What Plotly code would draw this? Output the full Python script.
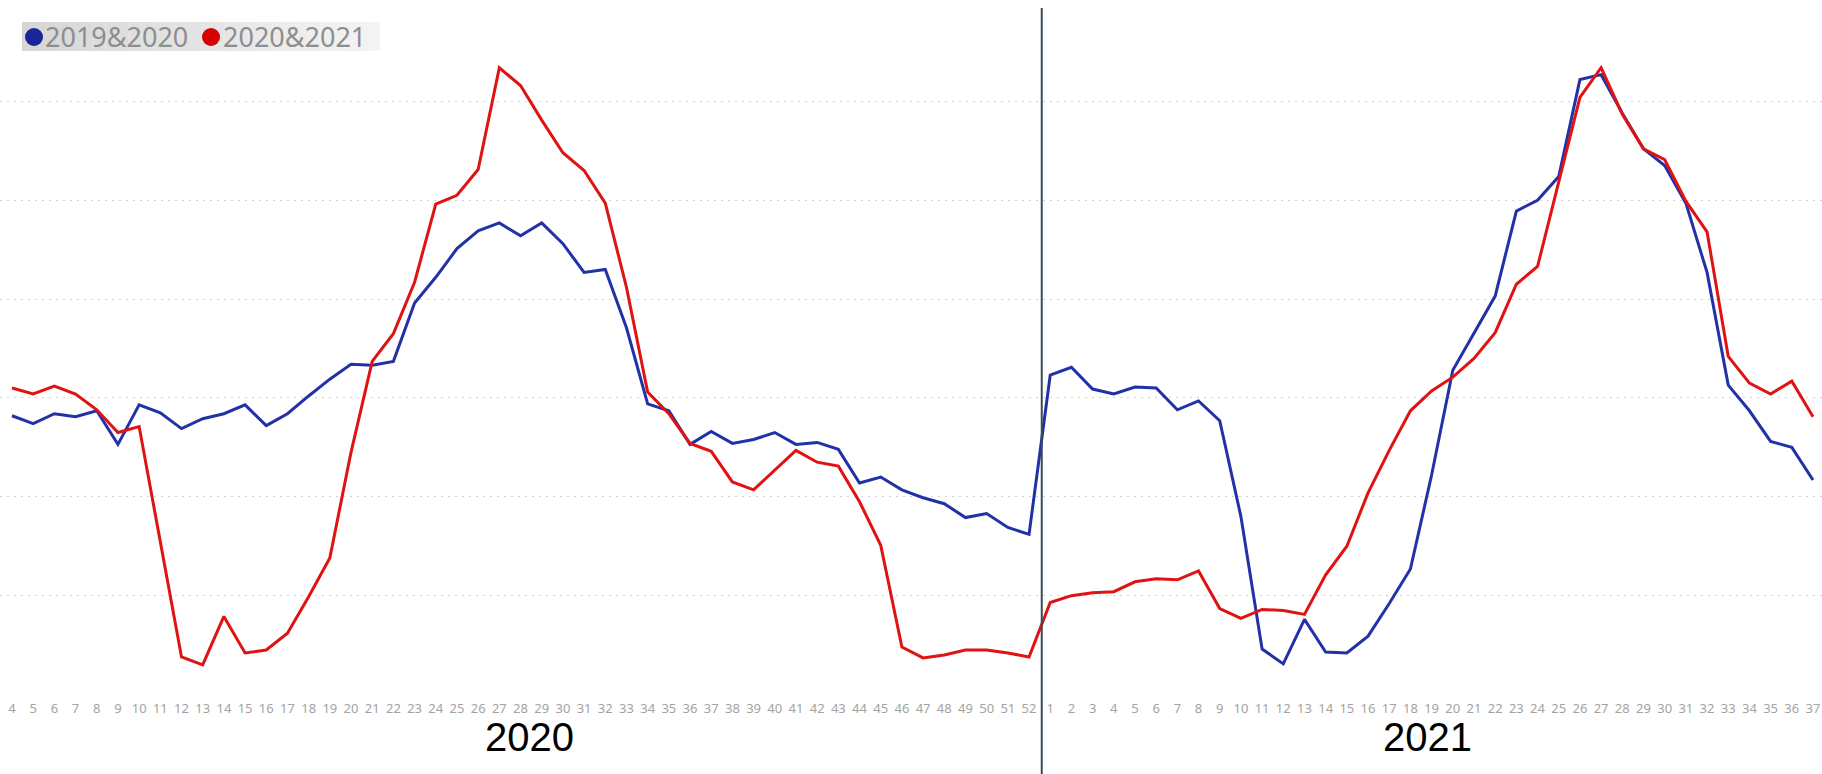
import plotly.graph_objects as go

# ---------------- data ----------------
weeks_2020 = list(range(4, 53))
weeks_2021 = list(range(1, 38))
years = ["2020", "2021"]
series_names = ["2019&2020", "2020&2021"]

blue_2020 = [28.2, 27.4, 28.4, 28.1, 28.7, 25.3, 29.3, 28.5, 26.9, 27.9,
             28.4, 29.3, 27.2, 28.4, 30.2, 31.9, 33.4, 33.3, 33.7, 39.6,
             42.2, 45.1, 46.9, 47.7, 46.4, 47.7, 45.6, 42.7, 43.0, 37.1,
             29.4, 28.7, 25.3, 26.6, 25.4, 25.8, 26.5, 25.3, 25.5, 24.8,
             21.4, 22.0, 20.7, 19.9, 19.3, 17.9, 18.3, 16.9, 16.2]
blue_2021 = [32.3, 33.1, 30.9, 30.4, 31.1, 31.0, 28.8, 29.7, 27.7, 18.0,
             4.6, 3.1, 7.6, 4.3, 4.2, 5.9, 9.2, 12.7, 22.2, 32.8,
             36.6, 40.3, 48.9, 50.0, 52.4, 62.2, 62.7, 58.8, 55.2, 53.5,
             49.7, 42.7, 31.3, 28.7, 25.6, 25.0, 21.7]

red_2020 = [31.0, 30.4, 31.2, 30.4, 28.8, 26.5, 27.1, 15.3, 3.8, 3.0,
            7.9, 4.2, 4.5, 6.2, 9.9, 13.8, 24.5, 33.7, 36.5, 41.7,
            49.6, 50.5, 53.1, 63.4, 61.6, 58.1, 54.8, 53.0, 49.7, 41.2,
            30.6, 28.4, 25.4, 24.6, 21.5, 20.7, 22.7, 24.7, 23.5, 23.1,
            19.5, 15.1, 4.8, 3.7, 4.0, 4.5, 4.5, 4.2, 3.8]
red_2021 = [9.3, 10.0, 10.3, 10.4, 11.4, 11.7, 11.6, 12.5, 8.7, 7.7,
            8.6, 8.5, 8.1, 12.1, 15.0, 20.4, 24.7, 28.7, 30.7, 32.1,
            34.0, 36.6, 41.5, 43.3, 51.7, 60.4, 63.4, 58.7, 55.2, 54.1,
            49.9, 46.8, 34.2, 31.5, 30.4, 31.7, 28.1]

# ---------------- layout constants ----------------
W, H = 1822, 774
M_L, M_R, M_T, M_B = 0, 0, 2, 79
BLUE = "#2331a6"
RED = "#e01212"
BLUE_DOT = "#1a2596"
RED_DOT = "#d60000"

week_labels = [str(w) for w in weeks_2020] + [str(w) for w in weeks_2021]
n = len(week_labels)
xs = list(range(n))
blue_vals = blue_2020 + blue_2021
red_vals = red_2020 + red_2021

first_px, last_px = 12.0, 1813.0
unit = (last_px - first_px) / (n - 1)
x_range = [-first_px / unit, (n - 1) + (W - last_px) / unit]
y_range = [-0.05, 70.05]
plot_h = H - M_T - M_B


def px_to_paper_x(px):
    return (px - M_L) / (W - M_L - M_R)


def px_to_paper_y(py):
    return 1 - (py - M_T) / plot_h


def data_x_to_paper(xv):
    return (xv - x_range[0]) / (x_range[1] - x_range[0])


fig = go.Figure()

fig.add_trace(go.Scatter(x=xs, y=blue_vals, mode="lines", name=series_names[0],
                         line=dict(color=BLUE, width=3), showlegend=False))
fig.add_trace(go.Scatter(x=xs, y=red_vals, mode="lines", name=series_names[1],
                         line=dict(color=RED, width=3), showlegend=False))

shapes = []
annotations = []

# legend background gradient
bx0, bx1, by0, by1 = 22, 380, 22, 51
steps = 30
for i in range(steps):
    t = i / (steps - 1)
    g = int(214 + (244 - 214) * t)
    shapes.append(dict(type="rect", xref="paper", yref="paper",
                       x0=px_to_paper_x(bx0 + (bx1 - bx0) * i / steps),
                       x1=px_to_paper_x(bx0 + (bx1 - bx0) * (i + 1) / steps),
                       y0=px_to_paper_y(by1), y1=px_to_paper_y(by0),
                       fillcolor=f"rgb({g},{g},{g})", line=dict(width=0),
                       layer="below"))

# legend items: dot + text
leg_y = 37
dot_d = 18
for name, col, dot_cx, text_x in [(series_names[0], BLUE_DOT, 34, 43),
                                  (series_names[1], RED_DOT, 211, 221)]:
    shapes.append(dict(type="circle", xref="paper", yref="paper",
                       x0=px_to_paper_x(dot_cx - dot_d / 2), x1=px_to_paper_x(dot_cx + dot_d / 2),
                       y0=px_to_paper_y(leg_y + dot_d / 2), y1=px_to_paper_y(leg_y - dot_d / 2),
                       fillcolor=col, line=dict(width=0)))
    annotations.append(dict(x=px_to_paper_x(text_x), xref="paper",
                            y=px_to_paper_y(leg_y), yref="paper",
                            text=name, showarrow=False, xanchor="left", yanchor="middle",
                            font=dict(family="Noto Sans, Open Sans", size=27, color="#8e8e8e")))

# year divider (between week 52 of 2020 and week 1 of 2021)
div_x = len(weeks_2020) - 1 + 0.6
shapes.append(dict(type="line", xref="paper", yref="paper",
                   x0=data_x_to_paper(div_x), x1=data_x_to_paper(div_x),
                   y0=px_to_paper_y(8), y1=px_to_paper_y(H),
                   line=dict(color="#3a4a56", width=2)))

# year group labels
year_label_px = [529, 1427]
for yr, lx in zip(years, year_label_px):
    annotations.append(dict(x=px_to_paper_x(lx), xref="paper", y=px_to_paper_y(737), yref="paper",
                            text=yr, showarrow=False, xanchor="center", yanchor="middle",
                            font=dict(family="Liberation Sans, Arial", size=40, color="#000000")))

fig.update_layout(
    width=W, height=H,
    margin=dict(l=M_L, r=M_R, t=M_T, b=M_B, pad=0),
    paper_bgcolor="white", plot_bgcolor="white",
    showlegend=False,
    shapes=shapes,
    annotations=annotations,
    xaxis=dict(range=x_range, tickmode="array", tickvals=xs, ticktext=week_labels,
               showgrid=False, zeroline=False, showline=False, ticks="",
               tickangle=0, ticklabelstandoff=4,
               tickfont=dict(family="Noto Sans, Open Sans", size=13, color="#a3a3a3")),
    yaxis=dict(range=y_range, dtick=10, tick0=0, showticklabels=False,
               showgrid=True, gridcolor="#d2d2d2", gridwidth=1, griddash="2px,5px",
               zeroline=False, showline=False, ticks=""),
)

fig.write_html("out.html", config={"displayModeBar": False},
               post_script="document.body.style.margin='0px';document.body.style.overflow='hidden';")
